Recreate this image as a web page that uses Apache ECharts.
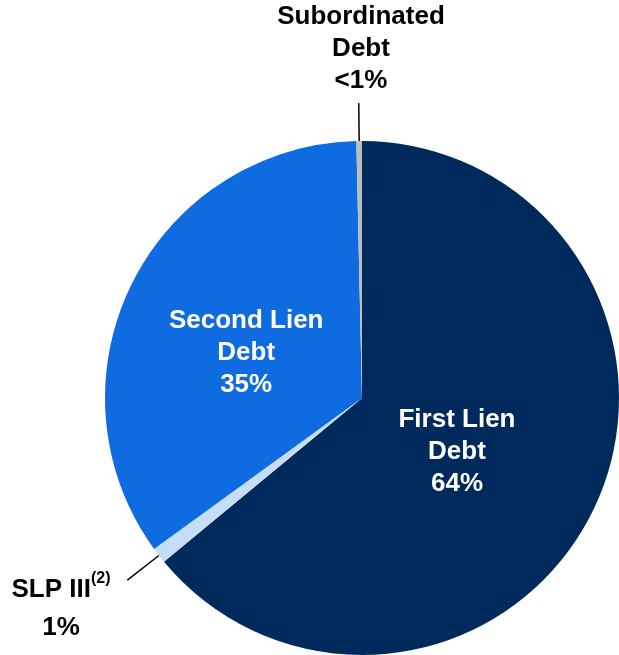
<!DOCTYPE html>
<html>
<head>
<meta charset="utf-8">
<script src="https://cdn.jsdelivr.net/npm/echarts@6/dist/echarts.min.js"></script>
<style>
  html, body { margin: 0; padding: 0; background: #fff; }
  #chart { width: 619px; height: 655px; }
</style>
</head>
<body>
<div id="chart"></div>
<script>
// slices, clockwise from 12 o'clock
var names = ["First Lien Debt", "SLP III", "Second Lien Debt", "Subordinated Debt"];
var values = [64.0, 1.0, 34.65, 0.35];
var pctLabels = ["64%", "1%", "35%", "<1%"];
var colors = ["#002A5C", "#C6DDF7", "#0F6BE0", "#BDBDBD"];

var myChart = echarts.init(document.getElementById("chart"));
var font = "'Liberation Sans', Arial, sans-serif";
var cx = 362, cy = 398;

var pieData = names.map(function (n, i) {
  var item = { name: n, value: values[i], itemStyle: { color: colors[i] } };
  if (i === 0 || i === 2) {
    item.label = { position: "inside", color: "#fff" };
    item.labelLine = { show: false };
  }
  return item;
});

// straight leader line going radially out from the slice edge
function radialLine(p0, len) {
  var dx = p0[0] - cx, dy = p0[1] - cy;
  var d = Math.sqrt(dx * dx + dy * dy) || 1;
  return [p0.slice(), [p0[0] + dx / d * len, p0[1] + dy / d * len]];
}

var option = {
  animation: false,
  series: [
    {
      type: "pie",
      center: [cx, cy],
      radius: [0, 257],
      startAngle: 90,
      clockwise: true,
      avoidLabelOverlap: false,
      itemStyle: { borderWidth: 0 },
      data: pieData,
      label: {
        show: true,
        position: "outside",
        color: "#000",
        fontFamily: font,
        fontWeight: "bold",
        fontSize: 26,
        lineHeight: 32,
        align: "center",
        formatter: function (p) {
          var i = p.dataIndex;
          if (i === 0) return "First Lien\nDebt\n" + pctLabels[i];
          if (i === 2) return "Second Lien\nDebt\n" + pctLabels[i];
          if (i === 1) return "{b|SLP III}{s|(2)}\n{b|" + pctLabels[i] + "}";
          return "Subordinated\nDebt\n" + pctLabels[i];
        },
        rich: {
          b: { fontFamily: font, fontWeight: "bold", fontSize: 26, lineHeight: 38, color: "#000" },
          s: { fontFamily: font, fontWeight: "bold", fontSize: 16, lineHeight: 38, verticalAlign: "top", padding: [0, 0, 12, 0], color: "#000" }
        }
      },
      labelLine: {
        show: true,
        lineStyle: { color: "#000", width: 1.5 }
      },
      labelLayout: function (params) {
        var pts = params.labelLinePoints;
        if (params.dataIndex === 3) {
          var o = { x: 361, y: 49, align: "center", verticalAlign: "middle" };
          if (pts) o.labelLinePoints = radialLine(pts[0], 38);
          return o;
        }
        if (params.dataIndex === 1) {
          var s = { x: 61, y: 609, align: "center", verticalAlign: "middle" };
          if (pts) s.labelLinePoints = radialLine(pts[0], 40);
          return s;
        }
        if (params.dataIndex === 0) return { dx: -24, dy: -2 };
        if (params.dataIndex === 2) return { dx: 2, dy: 13 };
        return {};
      }
    }
  ]
};

myChart.setOption(option);
window.addEventListener("resize", function () {
  myChart.resize();
});
</script>
</body>
</html>
